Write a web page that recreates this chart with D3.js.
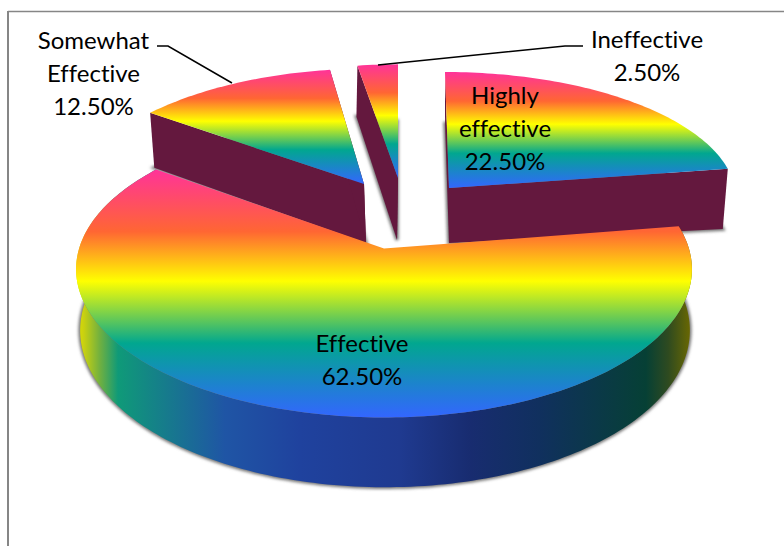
<!DOCTYPE html>
<html>
<head>
<meta charset="utf-8">
<script src="https://d3js.org/d3.v7.min.js"></script>
<style>
  html, body { margin: 0; padding: 0; background: #fff; }
  svg { display: block; }
  text { font-family: Lato, "Open Sans", sans-serif; font-size: 24px; fill: #000; text-anchor: middle; font-variant-ligatures: none; }
</style>
</head>
<body>
<svg id="chart" width="784" height="546"></svg>
<script>
// Survey answers, clockwise from twelve o'clock
const categories = ["Highly effective", "Effective", "Somewhat Effective", "Ineffective"];
const shares = [22.5, 62.5, 12.5, 2.5];
const labelLines = [["Highly", "effective"], ["Effective"], ["Somewhat", "Effective"], ["Ineffective"]];

const rainbowOffsets = [0, 25, 45, 70, 100];
const rainbowColors = ["#ff3399", "#ff6633", "#ffff00", "#01a78f", "#3366ff"];

const rimOffsetsX = [76, 84, 100, 118, 225, 300, 400, 470, 540, 646, 668, 692];
const rimColors = ["#e0e000", "#c8d010", "#70b040", "#0f9a78", "#1f55a5", "#1f429e", "#1f3a90", "#182c70", "#10305e", "#064035", "#2e4a20", "#6e6a00"];

const wallColor = "#64183e";

// Per-slice perspective: where the point lands, its ellipse radii, foreshortening,
// sideways skew, and the height of the extrusion (plus how much it grows to the right).
const sliceViews = [
  { ax: 449, ay: 188, rx: 286, ry: 124, p: 0.069, skew: 4.3, depth: 55, lean: 6, shrink: 0.982, shift: 0 },
  { ax: 384, ay: 248.5, rx: 304.9, ry: 145.3, p: 0.14, skew: 0, depth: 60, lean: 0, shrink: 0.99, shift: 1 },
  { ax: 364, ay: 184, rx: 289, ry: 130, p: 0.126, skew: -7, depth: 59, lean: 0, shrink: 0.99, shift: 2 },
  { ax: 398, ay: 178, rx: 285, ry: 125, p: 0.1, skew: 0, depth: 62, lean: 38, shrink: 1, shift: -1 }
];
const labelAnchors = [
  { x: 505, y: 104 }, { x: 362, y: 352 }, { x: 93.5, y: 49 }, { x: 647, y: 48 }
];
const leaderPaths = [
  null, null,
  [[157, 46], [168, 46], [232, 83]],
  [[378, 65], [565, 46], [583, 46]]
];

const svg = d3.select("#chart");
const defs = svg.append("defs");

const blur = defs.append("filter").attr("id", "soft")
  .attr("x", "-10%").attr("y", "-10%").attr("width", "120%").attr("height", "120%");
blur.append("feGaussianBlur").attr("stdDeviation", 1.6);

const topGradient = defs.append("linearGradient").attr("id", "rainbow")
  .attr("x1", 0).attr("y1", 0).attr("x2", 0).attr("y2", 1);
topGradient.selectAll("stop").data(rainbowOffsets).join("stop")
  .attr("offset", d => d + "%")
  .attr("stop-color", (d, i) => rainbowColors[i]);

const rimX = d3.scaleLinear().domain([76, 692]).range([0, 100]);
const rimGradient = defs.append("linearGradient").attr("id", "rim")
  .attr("gradientUnits", "userSpaceOnUse")
  .attr("x1", 76).attr("y1", 0).attr("x2", 692).attr("y2", 0);
rimGradient.selectAll("stop").data(rimOffsetsX).join("stop")
  .attr("offset", d => rimX(d) + "%")
  .attr("stop-color", (d, i) => rimColors[i]);

// Chart frame: only the top and left edges fall inside the page
svg.append("path").attr("d", "M8,546V11").attr("fill", "none")
  .attr("stroke", "#868686").attr("stroke-width", 2);
svg.append("path").attr("d", "M8,11.5H784").attr("fill", "none")
  .attr("stroke", "#868686").attr("stroke-width", 1.3);

const pie = d3.pie().sort(null).value(d => d);
const arcs = pie(shares);
const line = d3.line();

// Project an angle (clockwise from twelve) at radius r onto the slice's top face
function topPoint(view, angle, r = 1) {
  const u = r * Math.sin(angle), v = -r * Math.cos(angle);
  const w = 1 - view.p * v;
  return [view.ax + (view.rx * u + view.skew * v) / w, view.ay + view.ry * v / w, u, w];
}
// The matching point on the bottom face
function bottomPoint(view, angle, r = 1) {
  const [x, y, u, w] = topPoint(view, angle, r);
  const drop = view.depth + view.lean * u;
  return [view.ax + (x - view.ax) * view.shrink + view.shift, y + drop / w];
}
function arcAngles(a) {
  const n = Math.max(6, Math.ceil((a.endAngle - a.startAngle) / 0.02));
  return d3.range(n + 1).map(i => a.startAngle + (a.endAngle - a.startAngle) * i / n);
}

// Back to front: far slices first, the large front slice last
const drawOrder = [2, 0, 3, 1];

// Soft shadows sit under every solid
drawOrder.forEach(i => {
  const view = sliceViews[i], angles = arcAngles(arcs[i]);
  const outline = [bottomPoint(view, 0, 0), ...angles.map(t => bottomPoint(view, t))];
  svg.append("path")
    .attr("d", line(outline) + "Z")
    .attr("fill", "#777").attr("stroke", "#777").attr("stroke-width", 3.5)
    .attr("filter", "url(#soft)");
});

drawOrder.forEach(i => {
  const a = arcs[i], view = sliceViews[i], angles = arcAngles(a);
  const g = svg.append("g").attr("class", "slice");

  if (i === 1) {
    // Curved outer wall of the front slice
    const tops = angles.map(t => topPoint(view, t).slice(0, 2));
    const bottoms = angles.map(t => bottomPoint(view, t)).reverse();
    g.append("path").attr("d", line(tops.concat(bottoms)) + "Z").attr("fill", "url(#rim)");
  } else {
    // Flat cut walls of the pulled-out slices
    [a.startAngle, a.endAngle].forEach(t => {
      const quad = [
        topPoint(view, 0, 0).slice(0, 2),
        topPoint(view, t).slice(0, 2),
        bottomPoint(view, t),
        bottomPoint(view, 0, 0)
      ];
      g.append("path").attr("d", line(quad) + "Z").attr("fill", wallColor);
    });
  }

  const face = [topPoint(view, 0, 0).slice(0, 2), ...angles.map(t => topPoint(view, t).slice(0, 2))];
  g.append("path").attr("d", line(face) + "Z").attr("fill", "url(#rainbow)")
    .append("title").text(categories[i]);
});

// Leader lines for the two labels placed outside
leaderPaths.forEach(p => {
  if (p) svg.append("path").attr("d", line(p)).attr("fill", "none")
    .attr("stroke", "#000").attr("stroke-width", 1.5);
});

// Category and percentage labels
labelLines.forEach((lines, i) => {
  const rows = lines.concat(shares[i].toFixed(2) + "%");
  const t = svg.append("text");
  rows.forEach((row, k) => {
    t.append("tspan").attr("x", labelAnchors[i].x)
      .attr("y", labelAnchors[i].y + k * 33).text(row);
  });
});
</script>
</body>
</html>
